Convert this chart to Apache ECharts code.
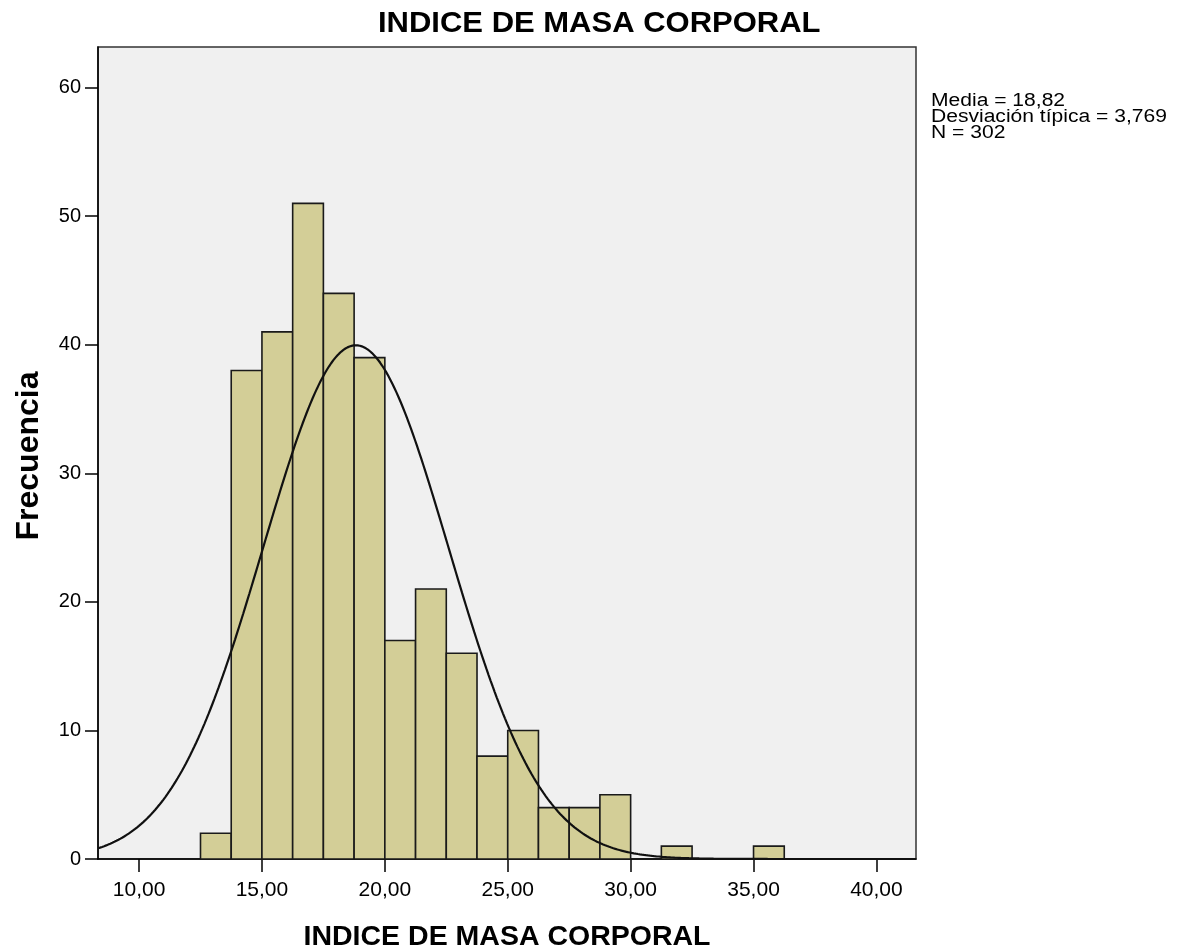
<!DOCTYPE html>
<html>
<head>
<meta charset="utf-8">
<title>INDICE DE MASA CORPORAL</title>
<script src="https://cdn.jsdelivr.net/npm/echarts@6/dist/echarts.min.js"></script>
<style>
  html, body { margin: 0; padding: 0; background: #ffffff; }
  #chart { width: 1179px; height: 946px; }
</style>
</head>
<body>
<div id="chart"></div>
<script>
// Histogram bins: lower edge of each non-empty bin and its count
const binLower = [12.5, 13.75, 15, 16.25, 17.5, 18.75, 20, 21.25, 22.5, 23.75, 25, 26.25, 27.5, 28.75, 31.25, 35];
const frequency = [2, 38, 41, 51, 44, 39, 17, 21, 16, 8, 10, 4, 4, 5, 1, 1];
const binWidth = 1.25;

// Summary statistics shown beside the plot
const mean = 18.82;
const stdDev = 3.769;
const sampleSize = 302;

// Axis tick values
const xTicks = [10, 15, 20, 25, 30, 35, 40];
const yTicks = [0, 10, 20, 30, 40, 50, 60];

const xMin = 8.33, xMax = 41.61;
const yMax = 63.16;

const fmtDec = v => v.toFixed(2).replace('.', ',');

const binData = binLower.map((lo, i) => [lo, lo + binWidth, frequency[i]]);

// Fitted normal curve scaled to counts per bin
const curve = [];
const steps = 400;
for (let i = 0; i <= steps; i++) {
  const x = xMin + (xMax - xMin) * i / steps;
  const z = (x - mean) / stdDev;
  const y = sampleSize * binWidth / (stdDev * Math.sqrt(2 * Math.PI)) * Math.exp(-0.5 * z * z);
  curve.push([x, y]);
}

const FONT = '"Liberation Sans", Arial, sans-serif';

const chart = echarts.init(document.getElementById('chart'), null, { renderer: 'canvas' });
chart.setOption({
  animation: false,
  backgroundColor: '#ffffff',
  textStyle: { fontFamily: FONT },
  grid: {
    left: 98, top: 47, width: 818, height: 812,
    containLabel: false, outerBoundsMode: 'none',
    show: true, backgroundColor: '#f0f0f0', borderColor: '#333333', borderWidth: 1.5
  },
  graphic: [
    {
      type: 'text', x: 378, y: 9, scaleX: 1.033,
      style: { text: 'INDICE DE MASA CORPORAL', font: 'bold 30px ' + FONT, fill: '#000' }
    },
    {
      type: 'text', x: 29.5, y: 456, rotation: Math.PI / 2,
      style: { text: 'Frecuencia', font: 'bold 32px ' + FONT, fill: '#000', align: 'center', verticalAlign: 'middle' }
    },
    {
      type: 'text', x: 931, y: 93, scaleX: 1.17,
      style: {
        text: 'Media = ' + fmtDec(mean) + '\nDesviación típica = ' + stdDev.toFixed(3).replace('.', ',') + '\nN = ' + sampleSize,
        font: '18px ' + FONT, fill: '#000', lineHeight: 16
      }
    }
  ],
  xAxis: {
    type: 'value', min: xMin, max: xMax,
    name: 'INDICE DE MASA CORPORAL', nameLocation: 'middle', nameGap: 64,
    nameTextStyle: { fontSize: 28.5, fontWeight: 'bold', color: '#000', fontFamily: FONT },
    splitLine: { show: false },
    axisLine: { lineStyle: { color: '#000', width: 1.5 } },
    axisTick: { show: true, length: 13, lineStyle: { color: '#000', width: 1.5 }, customValues: xTicks },
    axisLabel: { customValues: xTicks, formatter: v => fmtDec(v), fontSize: 21, color: '#000', margin: 21, fontFamily: FONT }
  },
  yAxis: {
    type: 'value', min: 0, max: yMax,
    splitLine: { show: false },
    axisLine: { show: true, lineStyle: { color: '#000', width: 1.5 } },
    axisTick: { show: true, length: 13, lineStyle: { color: '#000', width: 1.5 }, customValues: yTicks },
    axisLabel: { customValues: yTicks, fontSize: 20, color: '#000', margin: 17, fontFamily: FONT }
  },
  series: [
    {
      type: 'custom',
      data: binData,
      encode: { x: [0, 1], y: 2 },
      renderItem: function (params, api) {
        const p0 = api.coord([api.value(0), 0]);
        const p1 = api.coord([api.value(1), api.value(2)]);
        return {
          type: 'rect',
          shape: { x: p0[0], y: p1[1], width: p1[0] - p0[0], height: p0[1] - p1[1] },
          style: { fill: '#d3ce97', stroke: '#1a1a1a', lineWidth: 1.6 }
        };
      },
      z: 2
    },
    {
      type: 'line',
      data: curve,
      showSymbol: false,
      smooth: false,
      clip: true,
      lineStyle: { color: '#111', width: 2.2 },
      z: 3
    }
  ]
});
</script>
</body>
</html>
